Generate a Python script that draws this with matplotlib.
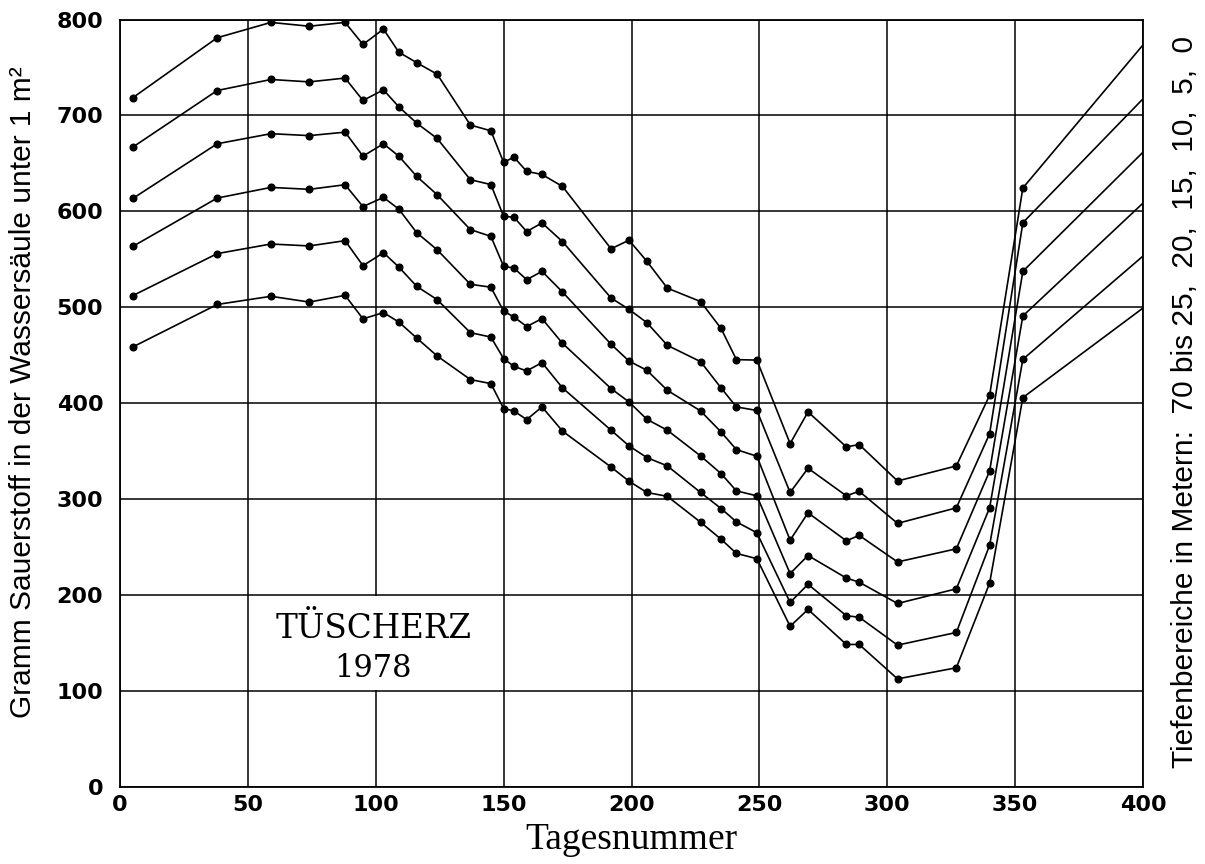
import numpy as np
from matplotlib import pyplot as plt
from matplotlib.patches import Rectangle

# Tagesnummer der Messungen (letzter Wert = Rand bei 400)
tage = [5, 38, 59, 74, 88, 95, 103, 109, 116, 124, 137, 145, 150, 154, 159, 165, 173,
        192, 199, 206, 214, 227, 235, 241, 249, 262, 269, 284, 289, 304, 327, 340, 353, 400]

# Gramm Sauerstoff unter 1 m2, kumuliert: 0-70 m, 5-70, 10-70, 15-70, 20-70, 25-70
o2_0m = [718.5, 781, 797, 793, 797, 774, 790, 766, 755, 743, 690, 684, 651, 656.6, 641.7, 638.5, 626,
         561, 570, 548, 520, 506, 478, 445.5, 445, 358, 391, 354.5, 357, 319, 334.7, 408.3, 624.4, 773.6]
o2_5m = [667, 726, 737.5, 735, 739, 715.6, 726.7, 709, 692, 676, 633, 628, 594.8, 594, 579, 588, 568.5,
         509.7, 497.9, 484, 460.4, 443.4, 416, 396.2, 392.5, 307, 332.3, 303.5, 308.3, 274.8, 291, 368.2, 588.2, 717.4]
o2_10m = [613.5, 670.5, 681, 679, 682.6, 657.6, 670.5, 657.6, 636.5, 617.4, 581, 574, 542.7, 541, 528.8, 537.5, 516,
          461.5, 444, 434.4, 413.5, 392, 370.1, 351.7, 344.8, 257.3, 285.8, 256.6, 262.3, 234.6, 248.3, 329.2, 537.5, 661.8]
o2_15m = [563.5, 613.9, 625, 623, 627.8, 605, 614.6, 602.4, 577.8, 560, 524, 521, 496, 490, 480, 488.2, 462.5,
          415.3, 401.4, 383.3, 371.9, 345.1, 326.7, 308.7, 303.5, 222.5, 241.3, 217.8, 213.5, 191.3, 206.6, 291, 491, 608.7]
o2_20m = [512.2, 556, 566, 564, 569.5, 543.4, 557, 542, 521.9, 508, 473.6, 469, 446.5, 438.5, 433.7, 442.4, 416,
          371.9, 355.6, 343.4, 334.7, 307, 290.3, 276.4, 265, 192.4, 211.3, 178.5, 177, 147.9, 161.1, 252, 445.8, 553.5]
o2_25m = [458.7, 503, 511.5, 505.5, 512.5, 488, 494.5, 484.7, 468, 449.3, 424.7, 420.5, 394.5, 392, 383, 396.2, 371,
          333.5, 318.8, 307, 303, 276, 258.3, 243.5, 238, 167.5, 185.1, 148.6, 148.6, 112.7, 124.3, 212.5, 405.9, 499.3]

kurven = [o2_0m, o2_5m, o2_10m, o2_15m, o2_20m, o2_25m]

xticks = [0, 50, 100, 150, 200, 250, 300, 350, 400]
yticks = [0, 100, 200, 300, 400, 500, 600, 700, 800]

fig = plt.figure(figsize=(12.05, 8.64), dpi=100)
ax = fig.add_axes([0.0996, 0.0891, 0.849, 0.8883])

for k in kurven:
    # letzter Punkt nur Linienende am Rand, ohne Marker
    ax.plot(tage, k, '-', color='black', lw=1.2, marker='o', ms=4.8,
            markevery=slice(0, len(tage) - 1), zorder=3)

ax.set_xlim(0, 400)
ax.set_ylim(0, 800)
ax.set_xticks(xticks)
ax.set_yticks(yticks)
ax.grid(True, color='black', lw=1.1)
ax.set_axisbelow(True)
ax.tick_params(axis='x', length=0, pad=6)
ax.tick_params(axis='y', length=0, pad=12)
for lab in ax.get_xticklabels() + ax.get_yticklabels():
    lab.set_fontweight('bold')
    lab.set_fontsize(16)
for s in ax.spines.values():
    s.set_linewidth(1.3)

# weisses Feld fuer den Titel
ax.add_patch(Rectangle((51, 101), 98, 98, facecolor='white', edgecolor='none', zorder=2))
ax.text(99, 155, 'TÜSCHERZ', ha='center', va='baseline', fontsize=23.5,
        family='DejaVu Serif', zorder=4)
ax.text(99, 115, '1978', ha='center', va='baseline', fontsize=22,
        family='DejaVu Serif', zorder=4)

ax.set_xlabel('Tagesnummer', fontsize=27, family='Liberation Serif', labelpad=5)

fig.text(0.019, 0.546, 'Gramm Sauerstoff in der Wassersäule unter 1 m²', rotation=90,
         ha='center', va='center', fontsize=21.5, family='Liberation Sans')
fig.text(0.983, 0.535, 'Tiefenbereiche in Metern:  70 bis 25,  20,  15,  10,  5,  0', rotation=90,
         ha='center', va='center', fontsize=21.5, family='Liberation Sans')

plt.savefig('out.png', dpi=100)
